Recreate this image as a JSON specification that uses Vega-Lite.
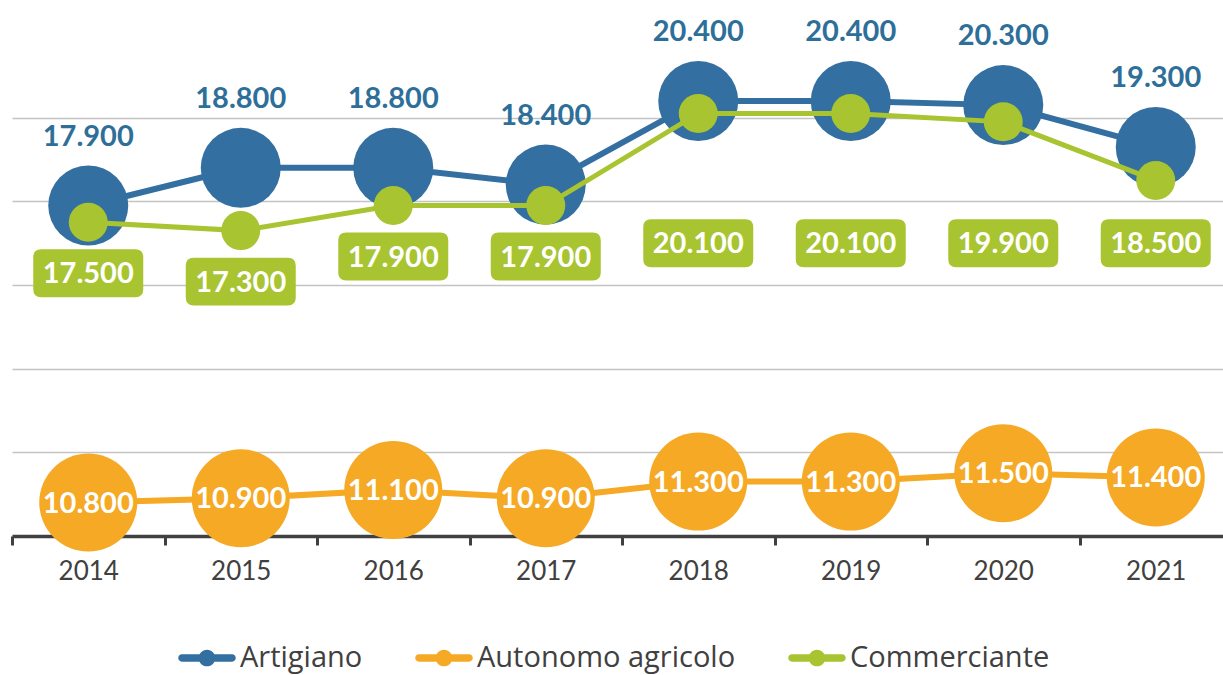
{
  "$schema": "https://vega.github.io/schema/vega-lite/v6.json",
  "width": 1211,
  "height": 502,
  "autosize": {"type": "none"},
  "padding": {"left": 12, "top": 34, "right": 0, "bottom": 139},
  "background": "white",
  "config": {
    "view": {"stroke": null},
    "font": "Lato",
    "locale": {"number": {"decimal": ",", "thousands": ".", "grouping": [3], "currency": ["€", ""]}}
  },
  "data": {
    "values": [
      {"year": "2014", "series": "Artigiano", "value": 17900},
      {"year": "2015", "series": "Artigiano", "value": 18800},
      {"year": "2016", "series": "Artigiano", "value": 18800},
      {"year": "2017", "series": "Artigiano", "value": 18400},
      {"year": "2018", "series": "Artigiano", "value": 20400},
      {"year": "2019", "series": "Artigiano", "value": 20400},
      {"year": "2020", "series": "Artigiano", "value": 20300},
      {"year": "2021", "series": "Artigiano", "value": 19300},
      {"year": "2014", "series": "Autonomo agricolo", "value": 10800},
      {"year": "2015", "series": "Autonomo agricolo", "value": 10900},
      {"year": "2016", "series": "Autonomo agricolo", "value": 11100},
      {"year": "2017", "series": "Autonomo agricolo", "value": 10900},
      {"year": "2018", "series": "Autonomo agricolo", "value": 11300},
      {"year": "2019", "series": "Autonomo agricolo", "value": 11300},
      {"year": "2020", "series": "Autonomo agricolo", "value": 11500},
      {"year": "2021", "series": "Autonomo agricolo", "value": 11400},
      {"year": "2014", "series": "Commerciante", "value": 17500},
      {"year": "2015", "series": "Commerciante", "value": 17300},
      {"year": "2016", "series": "Commerciante", "value": 17900},
      {"year": "2017", "series": "Commerciante", "value": 17900},
      {"year": "2018", "series": "Commerciante", "value": 20100},
      {"year": "2019", "series": "Commerciante", "value": 20100},
      {"year": "2020", "series": "Commerciante", "value": 19900},
      {"year": "2021", "series": "Commerciante", "value": 18500}
    ]
  },
  "encoding": {
    "x": {
      "field": "year",
      "type": "ordinal",
      "scale": {"type": "band", "paddingInner": 0, "paddingOuter": 0, "range": [0, 1220]},
      "axis": {
        "title": null,
        "labelAngle": 0,
        "labelFont": "Lato",
        "labelFontSize": 26,
        "labelColor": "#404040",
        "labelPadding": 13,
        "tickBand": "extent",
        "tickSize": 9,
        "tickWidth": 3,
        "tickColor": "#404040",
        "domainColor": "#404040",
        "domainWidth": 3.5,
        "grid": false,
        "zindex": 0
      }
    },
    "y": {
      "field": "value",
      "type": "quantitative",
      "scale": {"domain": [10000, 22000], "zero": false, "nice": false},
      "axis": {
        "title": null,
        "labels": false,
        "ticks": false,
        "domain": false,
        "grid": true,
        "values": [12000, 14000, 16000, 18000, 20000],
        "gridColor": "#C4C4C4",
        "gridWidth": 1.5
      }
    },
    "color": {
      "field": "series",
      "type": "nominal",
      "scale": {
        "domain": ["Artigiano", "Autonomo agricolo", "Commerciante"],
        "range": ["#336FA0", "#F5A925", "#A8C430"]
      },
      "legend": {
        "orient": "none",
        "legendX": 166,
        "legendY": 595,
        "direction": "horizontal",
        "title": null,
        "symbolType": "M-0.873,-0.127 L0.873,-0.127 A0.127,0.127 0 0,1 0.873,0.127 L-0.873,0.127 A0.127,0.127 0 0,1 -0.873,-0.127 Z M-0.29,0 A0.29,0.29 0 1,1 0.29,0 A0.29,0.29 0 1,1 -0.29,0 Z",
        "symbolSize": 3306,
        "symbolStrokeWidth": 0,
        "symbolOpacity": 1,
        "labelFont": "Open Sans",
        "labelFontSize": 29,
        "labelColor": "#404040",
        "labelOffset": 4,
        "labelLimit": 500,
        "columnPadding": 52,
        "values": ["Artigiano", "Autonomo agricolo", "Commerciante"]
      }
    }
  },
  "layer": [
    {
      "transform": [{"filter": "datum.series === 'Autonomo agricolo'"}],
      "mark": {"type": "point", "filled": true, "opacity": 1, "size": 1, "shape": "circle"}
    },
    {
      "transform": [{"filter": "datum.series === 'Autonomo agricolo'"}],
      "mark": {"type": "line", "strokeWidth": 6}
    },
    {
      "transform": [{"filter": "datum.series === 'Autonomo agricolo'"}],
      "mark": {"type": "point", "filled": true, "opacity": 1, "size": 9604, "shape": "circle"}
    },
    {
      "transform": [{"filter": "datum.series === 'Autonomo agricolo'"}],
      "mark": {"type": "text", "font": "Lato", "fontWeight": "bold", "fontSize": 29, "baseline": "middle", "align": "center", "dy": 1},
      "encoding": {"text": {"field": "value", "type": "quantitative", "format": ",.0f"}, "color": {"value": "white"}}
    },
    {
      "transform": [{"filter": "datum.series === 'Artigiano'"}],
      "mark": {"type": "line", "strokeWidth": 6}
    },
    {
      "transform": [{"filter": "datum.series === 'Artigiano'"}],
      "mark": {"type": "point", "filled": true, "opacity": 1, "size": 6400, "shape": "circle"}
    },
    {
      "transform": [{"filter": "datum.series === 'Artigiano'"}],
      "mark": {"type": "text", "font": "Lato", "fontWeight": "bold", "fontSize": 29, "baseline": "middle", "align": "center", "dy": -69},
      "encoding": {"text": {"field": "value", "type": "quantitative", "format": ",.0f"}, "color": {"value": "#2E6F9A"}}
    },
    {
      "transform": [{"filter": "datum.series === 'Commerciante'"}],
      "mark": {"type": "line", "strokeWidth": 5}
    },
    {
      "transform": [{"filter": "datum.series === 'Commerciante'"}],
      "mark": {"type": "point", "filled": true, "opacity": 1, "size": 1521, "shape": "circle"}
    },
    {
      "transform": [{"filter": "datum.series === 'Commerciante'"}],
      "mark": {
        "type": "point",
        "filled": true,
        "opacity": 1,
        "size": 12100,
        "shape": "M-0.855,-0.436 L0.855,-0.436 Q1,-0.436 1,-0.291 L1,0.291 Q1,0.436 0.855,0.436 L-0.855,0.436 Q-1,0.436 -1,0.291 L-1,-0.291 Q-1,-0.436 -0.855,-0.436 Z",
        "yOffset": {"expr": "max(51, scale('y', 17000) - scale('y', datum.value))"}
      }
    },
    {
      "transform": [{"filter": "datum.series === 'Commerciante'"}],
      "mark": {
        "type": "text",
        "font": "Lato",
        "fontWeight": "bold",
        "fontSize": 29,
        "baseline": "middle",
        "align": "center",
        "yOffset": {"expr": "max(51, scale('y', 17000) - scale('y', datum.value)) + 1"}
      },
      "encoding": {"text": {"field": "value", "type": "quantitative", "format": ",.0f"}, "color": {"value": "white"}}
    }
  ]
}
